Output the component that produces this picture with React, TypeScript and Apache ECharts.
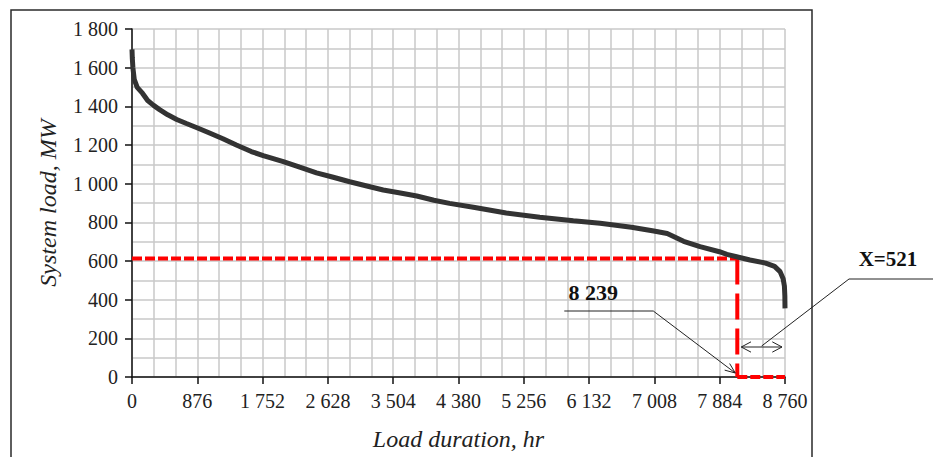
import React, { useEffect, useRef } from 'react';
import * as echarts from 'echarts';

// Load duration curve (hours, MW)
const hours = [0, 4, 12, 30, 70, 140, 210, 290, 370, 480, 600, 730, 880, 1040, 1220, 1400, 1600, 1760, 2030, 2250, 2475, 2700, 2920, 3150, 3370, 3600, 3820, 4050, 4260, 4580, 5020, 5470, 5920, 6280, 6700, 7000, 7180, 7400, 7620, 7880, 7980, 8110, 8290, 8500, 8620, 8694, 8735, 8752, 8758, 8760];
const loads = [1695, 1650, 1600, 1540, 1498, 1468, 1430, 1405, 1383, 1356, 1332, 1311, 1288, 1262, 1232, 1200, 1166, 1145, 1114, 1085, 1056, 1033, 1010, 988, 967, 952, 936, 914, 898, 878, 848, 826, 808, 795, 775, 755, 742, 702, 674, 648, 634, 622, 605, 589, 572, 545, 508, 470, 420, 355];

const xMax = 8760;
const xInterval = 876;
const yMax = 1800;
const yInterval = 200;

// Red cut-off construction (drawn position as in the picture)
const cutoffHour = 8120;
const cutoffLoad = 613;
const cutoffLabel = '8 239';
const spanLabel = 'X=521';
const xTitle = 'Load duration, hr';
const yTitle = 'System load, MW';

const SERIF = '"Liberation Serif", "Times New Roman", serif';
const TEXT = '#222222';

function fmt(v: number): string {
  return String(Math.round(v)).replace(/\B(?=(\d{3})+(?!\d))/g, ' ');
}

function arrowHead(tip: number[], from: number[], len = 10, ang = 25) {
  const dx = tip[0] - from[0];
  const dy = tip[1] - from[1];
  const d = Math.hypot(dx, dy) || 1;
  const ux = dx / d, uy = dy / d;
  const a = (ang * Math.PI) / 180;
  const rot = (s: number) => {
    const c = Math.cos(s * a), sn = Math.sin(s * a);
    const rx = ux * c - uy * sn;
    const ry = ux * sn + uy * c;
    return [tip[0] - len * rx, tip[1] - len * ry];
  };
  return [rot(1), tip, rot(-1)];
}

export default function App() {
  const ref = useRef<HTMLDivElement>(null);
  useEffect(() => {
    document.body.style.margin = '0';
    if (!ref.current) return;
    const chart = echarts.init(ref.current, null, { renderer: 'svg' });
    const gridColor = '#c9c9c9';
    const axisCommon = {
      axisLine: { show: true, onZero: false, lineStyle: { color: '#111', width: 1.5 } },
      axisTick: { show: true, length: 7, lineStyle: { color: '#111', width: 1.5 } },
      splitLine: { show: true, lineStyle: { color: gridColor, width: 1.5 } },
      minorSplitLine: { show: true, lineStyle: { color: gridColor, width: 1.5 } },
    };
    const curve = hours.map((h, i) => [h, loads[i]]);
    chart.setOption({
      animation: false,
      backgroundColor: '#ffffff',
      grid: { left: 132, right: 148, top: 29, bottom: 80, containLabel: false },
      xAxis: {
        type: 'value',
        min: 0,
        max: xMax,
        interval: xInterval,
        ...axisCommon,
        minorTick: { show: false, splitNumber: 3 },
        axisLabel: { formatter: (v: number) => fmt(v), fontFamily: SERIF, fontSize: 20, color: TEXT, margin: 14 },
        name: xTitle,
        nameLocation: 'middle',
        nameGap: 50,
        nameTextStyle: { fontFamily: SERIF, fontStyle: 'italic', fontSize: 24, color: TEXT },
      },
      yAxis: {
        type: 'value',
        min: 0,
        max: yMax,
        interval: yInterval,
        ...axisCommon,
        minorTick: { show: false, splitNumber: 2 },
        axisLabel: { formatter: (v: number) => fmt(v), fontFamily: SERIF, fontSize: 20, color: TEXT, margin: 14 },
        name: yTitle,
        nameLocation: 'middle',
        nameGap: 72,
        nameRotate: 90,
        nameTextStyle: { fontFamily: SERIF, fontStyle: 'italic', fontSize: 24, color: TEXT },
      },
      series: [
        {
          type: 'line',
          data: [[0, cutoffLoad], [cutoffHour, cutoffLoad]],
          showSymbol: false,
          lineStyle: { color: '#ff0000', width: 4, type: [10, 3] },
          z: 3,
        },
        {
          type: 'line',
          data: [[cutoffHour, cutoffLoad], [cutoffHour, 0]],
          showSymbol: false,
          lineStyle: { color: '#ff0000', width: 4, type: [26, 9] },
          z: 3,
        },
        {
          type: 'line',
          data: [[cutoffHour, 0], [xMax, 0]],
          showSymbol: false,
          lineStyle: { color: '#ff0000', width: 4, type: [10, 3] },
          z: 3,
        },
        {
          type: 'line',
          data: curve,
          showSymbol: false,
          lineStyle: { color: '#333333', width: 5 },
          z: 4,
        },
      ],
    });

    const cb = chart.convertToPixel({ gridIndex: 0 }, [cutoffHour, 0]) as number[];
    const ep = chart.convertToPixel({ gridIndex: 0 }, [xMax, 0]) as number[];
    const lineStyle = { stroke: '#222', lineWidth: 1, fill: 'none' };

    const tip = [cb[0] - 2, cb[1] - 4];
    const knee = [cb[0] - 84, cb[1] - 66];
    const start = [cb[0] - 173, cb[1] - 66];

    const dy = cb[1] - 30;
    const dl = [cb[0] + 4, dy];
    const dr = [ep[0] - 3, dy];
    const mid = [(dl[0] + dr[0]) / 2, dy - 1];
    const xKnee = [ep[0] + 64, ep[1] - 98];
    const xEnd = [ep[0] + 160, ep[1] - 98];

    chart.setOption({
      graphic: [
        {
          type: 'rect',
          silent: true,
          shape: { x: 11, y: 10, width: 801, height: 480 },
          style: { fill: 'none', stroke: '#2a2a2a', lineWidth: 1.5 },
          z: 10,
        },
        { type: 'polyline', silent: true, shape: { points: [start, knee, tip] }, style: lineStyle, z: 20 },
        { type: 'polyline', silent: true, shape: { points: arrowHead(tip, knee, 11, 22) }, style: lineStyle, z: 20 },
        { type: 'line', silent: true, shape: { x1: dl[0], y1: dl[1], x2: dr[0], y2: dr[1] }, style: lineStyle, z: 20 },
        { type: 'polyline', silent: true, shape: { points: arrowHead(dl, dr, 11, 28) }, style: lineStyle, z: 20 },
        { type: 'polyline', silent: true, shape: { points: arrowHead(dr, dl, 11, 28) }, style: lineStyle, z: 20 },
        { type: 'polyline', silent: true, shape: { points: [mid, xKnee, xEnd] }, style: lineStyle, z: 20 },
        {
          type: 'text',
          silent: true,
          x: cb[0] - 144,
          y: cb[1] - 85,
          style: { text: cutoffLabel, fontFamily: SERIF, fontWeight: 'bold', fontSize: 22, fill: '#111', align: 'center', verticalAlign: 'middle' },
          z: 20,
        },
        {
          type: 'text',
          silent: true,
          x: ep[0] + 103,
          y: ep[1] - 118,
          style: { text: spanLabel, fontFamily: SERIF, fontWeight: 'bold', fontSize: 21, fill: '#111', align: 'center', verticalAlign: 'middle' },
          z: 20,
        },
      ],
    });

    return () => chart.dispose();
  }, []);
  return <div ref={ref} style={{ width: 933, height: 457 }} />;
}
